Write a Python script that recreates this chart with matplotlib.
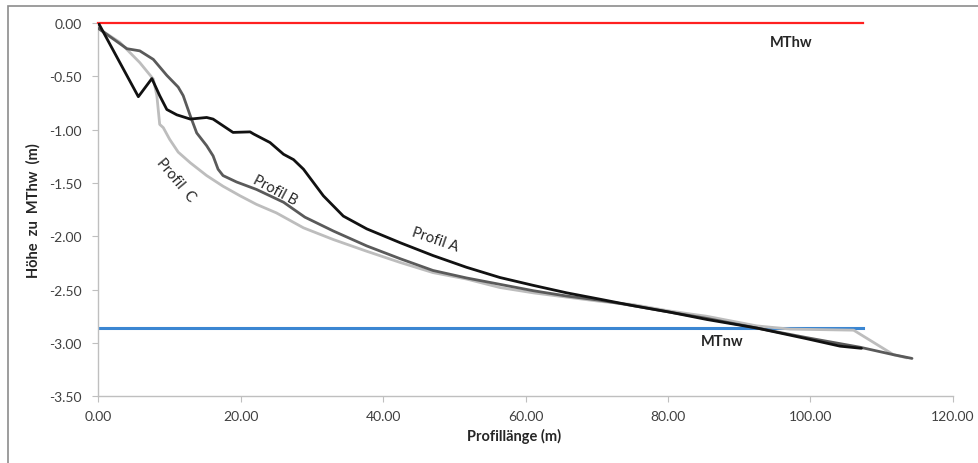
import matplotlib
matplotlib.use("Agg")
import matplotlib.pyplot as plt
import matplotlib.patches as mpatches

plt.rcParams['font.family'] = ['Lato', 'DejaVu Sans']

#---------------- datos ------------
profil_a_x = [0, 5.6, 7.5, 8.6, 9.6, 11, 12.9, 15.2, 16.1, 18.9, 21.3, 21.8, 24.1, 26, 27.4,
              28.8, 31.6, 34.4, 37.7, 42.4, 47, 51.7, 56.4, 61.1, 65.8, 70.5, 75.1, 80.2,
              85.5, 92.5, 99.5, 104.2, 107.2]
profil_a_y = [0, -0.69, -0.52, -0.68, -0.81, -0.86, -0.90, -0.885, -0.90, -1.025, -1.02, -1.04,
              -1.12, -1.23, -1.28, -1.37, -1.62, -1.81, -1.93, -2.06, -2.18, -2.29, -2.386,
              -2.46, -2.53, -2.59, -2.65, -2.71, -2.78, -2.86, -2.96, -3.03, -3.05]

profil_b_x = [0, 4.0, 5.8, 7.7, 9.6, 11.2, 11.9, 12.9, 13.8, 15.2, 16.1, 16.8, 17.5, 19.4, 22.2,
              26, 29, 33, 37.7, 42.4, 47, 51.7, 56.4, 61.1, 65.8, 70.5, 75.1, 80.2, 85.5,
              92.5, 99.5, 107, 111.7, 114.3]
profil_b_y = [-0.05, -0.24, -0.26, -0.34, -0.49, -0.60, -0.68, -0.87, -1.03, -1.15, -1.245,
              -1.37, -1.43, -1.49, -1.56, -1.68, -1.82, -1.95, -2.09, -2.21, -2.32, -2.39,
              -2.45, -2.51, -2.56, -2.60, -2.65, -2.71, -2.77, -2.86, -2.95, -3.04, -3.11, -3.145]

profil_c_x = [0, 3, 5.8, 7.7, 8.2, 8.6, 9.1, 10, 11.2, 12.9, 15.2, 17.5, 19.9, 22.2, 25, 28.8,
              33, 37.7, 42.4, 47, 51.7, 56.4, 61.1, 65.8, 70.5, 75.1, 80.2, 85.5, 92.5, 97.2,
              106.1, 111.7, 113.6]
profil_c_y = [-0.05, -0.18, -0.37, -0.525, -0.68, -0.95, -0.98, -1.09, -1.21, -1.31, -1.43,
              -1.53, -1.62, -1.70, -1.78, -1.92, -2.03, -2.14, -2.245, -2.34, -2.40, -2.48,
              -2.53, -2.57, -2.61, -2.64, -2.70, -2.75, -2.84, -2.87, -2.88, -3.11, -3.14]

mthw_x = [0, 107.4]
mthw_y = [0.0, 0.0]
mtnw_x = [0, 107.4]
mtnw_y = [-2.86, -2.86]

x_ticks = [0, 20, 40, 60, 80, 100, 120]
y_ticks = [0, -0.5, -1.0, -1.5, -2.0, -2.5, -3.0, -3.5]

#---------------- grafico ------------
fig = plt.figure(figsize=(9.79, 4.64), dpi=100)
fig.patches.append(mpatches.Rectangle((0.008, -0.1), 1.2, 1.085, transform=fig.transFigure,
                                      fill=False, edgecolor='#8c8c8c', linewidth=1.2))
ax = fig.add_axes([0.1006, 0.1438, 0.8724, 0.8042])

ax.plot(mthw_x, mthw_y, color='#ff2020', linewidth=1.6, zorder=2, clip_on=False)
ax.plot(mtnw_x, mtnw_y, color='#3b86d2', linewidth=2.2, zorder=2)
line_kw = dict(linewidth=2.0, solid_joinstyle='round', solid_capstyle='round')
ax.plot(profil_c_x, profil_c_y, color='#bdbdbd', zorder=3, **line_kw)
ax.plot(profil_b_x, profil_b_y, color='#5a5a5a', zorder=4, **line_kw)
ax.plot(profil_a_x, profil_a_y, color='#111111', zorder=5, **line_kw)

ax.set_xlim(0, 120)
ax.set_ylim(-3.5, 0)
ax.set_xticks(x_ticks)
ax.set_yticks(y_ticks)
ax.set_xticklabels(["%.2f" % v for v in x_ticks])
ax.set_yticklabels(["%.2f" % v for v in y_ticks])
ax.tick_params(axis='both', direction='out', length=4, width=0.8, color='#bfbfbf',
               labelsize=10, labelcolor='#404040')
ax.tick_params(axis='y', pad=8)
ax.tick_params(axis='x', pad=6)

for s in ['top', 'right']:
    ax.spines[s].set_visible(False)
for s in ['left', 'bottom']:
    ax.spines[s].set_color('#bfbfbf')
    ax.spines[s].set_linewidth(1.0)

ax.set_xlabel("Profillänge (m)", fontsize=10.5, fontweight='bold', color='#262626')
ax.xaxis.set_label_coords(0.486, -0.085)
ax.set_ylabel("Höhe  zu  MThw  (m)", fontsize=10.5, fontweight='bold', color='#262626')
ax.yaxis.set_label_coords(-0.068, 0.5)

ax.text(47.3, -2.03, "Profil A", rotation=-19, fontsize=10.5, color='#262626',
        ha='center', va='center')
ax.text(24.8, -1.56, "Profil B", rotation=-28, fontsize=10.5, color='#262626',
        ha='center', va='center')
ax.text(10.8, -1.47, "Profil  C", rotation=-50, fontsize=10.5, color='#262626',
        ha='center', va='center')
ax.text(97.3, -0.18, "MThw", fontsize=10.5, fontweight='bold', color='#262626',
        ha='center', va='center')
ax.text(87.6, -2.98, "MTnw", fontsize=10.5, fontweight='bold', color='#262626',
        ha='center', va='center')

fig.savefig("out.png", dpi=100)
